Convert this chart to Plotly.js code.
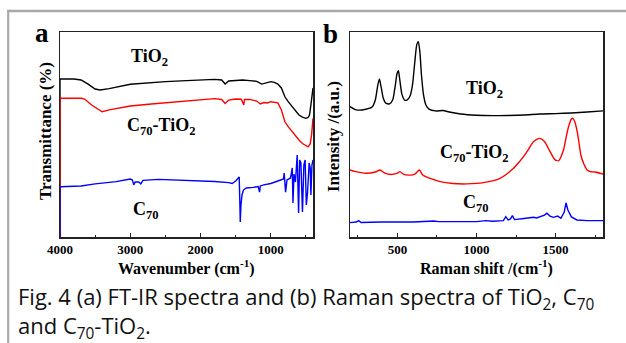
<!DOCTYPE html>
<html>
<head>
<meta charset="utf-8">
<script src="https://cdn.plot.ly/plotly-3.0.1.min.js"></script>
<style>
html,body{margin:0;padding:0;background:#fff;}
#chart{width:626px;height:343px;}
</style>
</head>
<body>
<div id="chart"></div>
<script>
// ---- FT-IR (panel a) ----
var irTiO2X = [4000,4000,3800,3700,3600,3500,3430,3300,3000,2800,2500,2200,2000,1800,1700,1650,1600,1500,1400,1300,1200,1130,1080,1000,950,900,850,800,750,700,650,600,550,500,470,450,430,415,400];
var irTiO2Y = [0,77.1,77.1,76.6,74.6,72.2,71.7,72.4,74.5,75.1,75.8,76.3,76.6,76.9,76.6,74.6,76.1,76.4,76.6,76.3,75.9,74.6,75.1,75.8,75.4,74.6,72.7,68.4,65.9,63.6,61.5,59.5,58.5,57.9,58.3,59.5,64.4,69.3,72.7];

var irC70TiO2X = [4000,4000,3700,3650,3550,3450,3400,3300,3000,2700,2500,2200,2000,1800,1700,1650,1600,1500,1420,1385,1375,1300,1200,1150,1100,1050,1000,900,850,800,750,700,650,600,550,500,470,440,420,400];
var irC70TiO2Y = [0,67.7,67.7,67.3,64.4,62.0,61.1,62.0,63.9,64.9,65.5,66.3,66.8,67.5,67.1,65.1,66.8,67.3,67.2,64.4,67.1,67.1,66.3,64.9,65.6,65.4,66.0,65.4,62.0,56.2,53.7,51.4,49.3,47.3,45.6,44.4,44.0,45.4,49.8,57.9];

var irC70X = [4000,4000,3700,3500,3200,3000,2970,2950,2930,2880,2850,2820,2600,2400,2200,2000,1800,1600,1550,1500,1460,1450,1440,1435,1425,1410,1390,1350,1250,1180,1160,1150,1100,1000,900,820,810,800,790,770,720,695,685,670,650,625,605,590,572,550,530,512,495,478,455,440,430,415,400];
var irC70Y = [0,24.5,24.9,25.9,27.0,28.3,27.8,25.4,26.8,26.8,25.9,27.6,28.1,27.8,27.7,27.5,27.1,26.5,26.1,27.3,28.6,29.3,15.6,7.3,15.6,20.5,22.9,23.9,24.2,24.6,21.9,24.9,25.4,26.1,27.3,28.3,31.2,26.8,21.9,27.8,28.8,33.7,16.6,30.7,26.8,40.0,11.7,37.6,36.1,12.2,35.1,37.6,15.6,21.5,36.1,33.7,20.5,35.1,37.6];

// ---- Raman (panel b) ----
var ramTiO2X = [200,240,300,340,360,375,386,398,410,425,450,470,485,497,506,515,528,545,560,580,595,610,622,632,642,652,665,680,700,740,790,820,900,1000,1100,1200,1300,1400,1500,1600,1700,1800];
var ramTiO2Y = [63.6,62.0,62.3,63.4,66.8,73.7,77.1,72.7,67.8,65.4,64.9,66.8,73.2,79.5,81.1,76.6,69.8,66.8,66.8,68.8,74.1,85.4,93.7,95.3,90.2,79.0,69.3,64.4,62.4,61.5,61.7,61.1,60.0,59.4,59.2,59.3,59.5,60.0,60.2,60.5,61.0,61.5];

var ramC70TiO2X = [200,230,300,360,390,420,460,500,516,540,580,610,639,660,700,770,850,939,1044,1149,1234,1270,1297,1330,1360,1398,1430,1460,1497,1520,1550,1570,1582,1600,1609,1620,1639,1660,1677,1700,1719,1750,1800];
var ramC70TiO2Y = [32.7,32.0,31.1,31.7,32.7,31.2,30.5,31.2,31.9,30.5,30.2,30.7,32.7,30.2,28.8,27.0,26.1,25.9,26.5,28.6,33.5,36.6,39.2,42.9,46.5,48.1,46.6,42.4,37.6,37.3,42.4,49.8,53.8,57.6,57.9,56.6,50.6,40.0,36.0,32.7,31.9,31.7,30.7];

var ramC70X = [200,240,255,270,400,600,700,730,760,900,1000,1060,1100,1170,1185,1200,1215,1227,1240,1300,1360,1380,1402,1430,1445,1465,1487,1513,1534,1555,1566,1578,1600,1635,1700,1800];
var ramC70Y = [7.0,7.3,8.0,7.1,7.3,7.3,7.7,7.8,7.5,7.3,7.5,8.0,7.7,8.0,9.9,8.3,8.8,10.4,8.5,9.0,9.6,9.3,9.9,10.7,11.6,10.2,9.6,10.2,9.1,12.2,16.7,13.2,9.8,8.3,8.0,8.0];

var irTicks = [1000,2000,3000,4000];
var irMinor = [500,1500,2500,3500];
var ramTicks = [500,1000,1500];
var ramMinor = [250,750,1250,1750];

var captionLine1 = 'Fig. 4 (a) FT-IR spectra and (b) Raman spectra of TiO<sub>2</sub>, C<sub>70</sub>';
var captionLine2 = 'and C<sub>70</sub>-TiO<sub>2</sub>.';

var W = 626, H = 343;
function px(x){return x/W;}
function py(y){return 1 - y/H;}

var serif = 'Liberation Serif, Times New Roman, serif';
var lw = 1.4;
var BLACK = '#000000', RED = '#ff0000', BLUE = '#0000ff';

var traces = [
  {x: irTiO2X, y: irTiO2Y, xaxis:'x', yaxis:'y', mode:'lines', line:{color:BLACK,width:lw}},
  {x: irC70TiO2X, y: irC70TiO2Y, xaxis:'x', yaxis:'y', mode:'lines', line:{color:RED,width:lw}},
  {x: irC70X, y: irC70Y, xaxis:'x', yaxis:'y', mode:'lines', line:{color:BLUE,width:lw}},
  {x: ramTiO2X, y: ramTiO2Y, xaxis:'x2', yaxis:'y2', mode:'lines', line:{color:BLACK,width:lw, shape:'spline', smoothing:0.6}},
  {x: ramC70TiO2X, y: ramC70TiO2Y, xaxis:'x2', yaxis:'y2', mode:'lines', line:{color:RED,width:lw, shape:'spline', smoothing:0.6}},
  {x: ramC70X, y: ramC70Y, xaxis:'x2', yaxis:'y2', mode:'lines', line:{color:BLUE,width:lw}}
];

var ydom = [py(237), py(32)];
var tickFont = {family: serif, size: 13, color:'#000', weight: 'bold'};

function xax(dom, rng, tv, mv){
  return {domain: dom, range: rng, tickvals: tv, ticktext: tv.map(String), ticks:'inside', ticklen:4, tickwidth:1.2, tickcolor:'#222',
    minor:{tickvals: mv, ticks:'inside', ticklen:2.5, tickwidth:1, tickcolor:'#222'},
    showline:true, mirror:true, linecolor:'#222', linewidth:1.5, showgrid:false, zeroline:false,
    tickfont: tickFont, fixedrange:true};
}
function yax(dom, anchor, layer){
  return {domain: dom, range:[0,100], anchor: anchor, showticklabels:false, ticks:'', showline:true, mirror:true,
    linecolor:'#222', linewidth:1.5, showgrid:false, zeroline:false, layer: layer, fixedrange:true};
}

var titleFont = {family: serif, size: 16, color:'#000', weight:'bold'};
var labFont = {family: serif, size: 18, color:'#000', weight:'bold'};
var capFont = {family:'Open Sans, Lato, Liberation Sans, sans-serif', size:22, color:'#111'};

function ann(text, x, y, font, extra){
  var a = {text: text, x: px(x), y: py(y), xref:'paper', yref:'paper', showarrow:false, xanchor:'center', yanchor:'middle', font: font};
  if (extra) for (var k in extra) a[k] = extra[k];
  return a;
}

var annotations = [
  ann('a', 41.5, 33, {family: serif, size: 27, color:'#000', weight:'bold'}),
  ann('b', 330, 34, {family: serif, size: 27, color:'#000', weight:'bold'}),
  ann('Wavenumber (cm<sup>-1</sup>)', 186.5, 267, titleFont),
  ann('Raman shift /(cm<sup>-1</sup>)', 487, 267, titleFont),
  ann('Transmittance (%)', 45, 131, {family: serif, size: 17, color:'#000', weight:'bold'}, {textangle:-90}),
  ann('Intensity /(a.u.)', 334, 137, {family: serif, size: 17, color:'#000', weight:'bold'}, {textangle:-90}),
  ann('TiO<sub>2</sub>', 149, 58, labFont),
  ann('C<sub>70</sub>-TiO<sub>2</sub>', 161.5, 126.5, labFont),
  ann('C<sub>70</sub>', 146, 210.5, labFont),
  ann('TiO<sub>2</sub>', 484, 89.5, labFont),
  ann('C<sub>70</sub>-TiO<sub>2</sub>', 474.5, 153.5, labFont),
  ann('C<sub>70</sub>', 475.5, 203, labFont),
  ann(captionLine1, 16, 298, capFont, {xanchor:'left', align:'left'}),
  ann(captionLine2, 16, 327, capFont, {xanchor:'left', align:'left'})
];

var shapes = [
  {type:'line', xref:'paper', yref:'paper', x0: px(7), x1: 1, y0: py(11), y1: py(11), line:{color:'#a9a9a9', width:2.3}},
  {type:'line', xref:'paper', yref:'paper', x0: px(8.2), x1: px(8.2), y0: py(10), y1: 0, line:{color:'#a9a9a9', width:2.2}}
];

var layout = {
  width: W, height: H, autosize:false,
  margin:{l:0,r:0,t:0,b:0,pad:0},
  paper_bgcolor:'#fff', plot_bgcolor:'#fff',
  showlegend:false,
  xaxis: xax([px(60), px(313)], [4000, 400], irTicks, irMinor),
  yaxis: yax(ydom, 'x', 'below traces'),
  xaxis2: xax([px(350), px(603)], [200, 1800], ramTicks, ramMinor),
  yaxis2: yax(ydom, 'x2', 'above traces'),
  annotations: annotations,
  shapes: shapes
};
layout.xaxis.anchor = 'y';
layout.xaxis2.anchor = 'y2';

Plotly.newPlot('chart', traces, layout, {staticPlot:true, displayModeBar:false});
</script>
</body>
</html>
